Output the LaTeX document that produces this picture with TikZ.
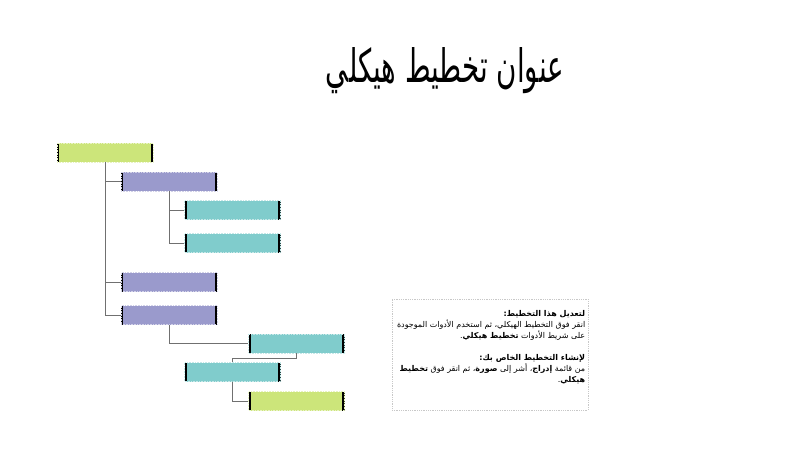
\documentclass[tikz,border=0pt]{standalone}
\usepackage{fontspec}
\newfontfamily\arabicfont[Script=Arabic]{DejaVu Sans}
\TeXXeTstate=1
\usetikzlibrary{calc}
\definecolor{cgreen}{HTML}{CCE57A}
\definecolor{cpurple}{HTML}{9A9ACC}
\definecolor{cteal}{HTML}{80CCCC}
\definecolor{cline}{HTML}{707070}
\definecolor{cbox}{HTML}{C8C8C8}
\begin{document}
\begin{tikzpicture}[x=1pt,y=-1pt,
  orgbox/.style={rectangle, minimum width=96pt, minimum height=19pt, inner sep=0pt,
    fill=#1, draw=#1!45!white, densely dotted, line width=0.6pt,
    path picture={
      \draw[solid,black,line width=2.2pt]
        ([xshift=1.1pt]path picture bounding box.south west) -- ([xshift=1.1pt]path picture bounding box.north west);
      \draw[solid,black,line width=2.2pt]
        ([xshift=-1.1pt]path picture bounding box.south east) -- ([xshift=-1.1pt]path picture bounding box.north east);
    }},
  conn/.style={draw=cline, line width=0.8pt},
  notebox/.style={rectangle, draw=cbox, densely dotted, line width=0.8pt, inner sep=0pt,
    minimum width=196pt, minimum height=111pt}
]
\useasboundingbox (0,0) rectangle (796,450);

% title
\node (title) at (445,71) {\resizebox{238pt}{35pt}{\arabicfont\beginR عنوان تخطيط هيكلي\endR}};

% org boxes
\node[orgbox=cgreen]  (b1) at (105,152.5) {};
\node[orgbox=cpurple] (b2) at (169,181.5) {};
\node[orgbox=cteal]   (b3) at (232.5,210) {};
\node[orgbox=cteal]   (b4) at (232.5,243) {};
\node[orgbox=cpurple] (b5) at (169,282) {};
\node[orgbox=cpurple] (b6) at (169,315) {};
\node[orgbox=cteal]   (b7) at (296.5,343.5) {};
\node[orgbox=cteal]   (b8) at (232.5,372) {};
\node[orgbox=cgreen]  (b9) at (296.5,401) {};

% connectors
\draw[conn] (b1.south) |- (b2.west);
\draw[conn] (b1.south) |- (b5.west);
\draw[conn] (b1.south) |- (b6.west);
\draw[conn] (b2.south) |- (b3.west);
\draw[conn] (b2.south) |- (b4.west);
\draw[conn] (b6.south) |- (b7.west);
\draw[conn] (b7.south) -- ++(0,5) -| (b8.north);
\draw[conn] (b8.south) |- (b9.west);

% note box
\node[notebox] (note) at (490,354.5) {};
\node[anchor=north east, align=right, inner sep=0pt, font=\arabicfont\fontsize{8}{11}\selectfont]
  (notetext) at ([xshift=-3pt,yshift=-12pt]note.north east) {%
  \beginR\textbf{لتعديل هذا التخطيط:}\endR\\
  \beginR انقر فوق التخطيط الهيكلي، ثم استخدم الأدوات الموجودة\endR\\
  \beginR على شريط الأدوات \textbf{تخطيط هيكلي}.\endR\\[11pt]
  \beginR\textbf{لإنشاء التخطيط الخاص بك:}\endR\\
  \beginR من قائمة \textbf{إدراج}، أشر إلى \textbf{صورة}، ثم انقر فوق \textbf{تخطيط}\endR\\
  \beginR\textbf{هيكلي}.\endR};
\end{tikzpicture}
\end{document}
